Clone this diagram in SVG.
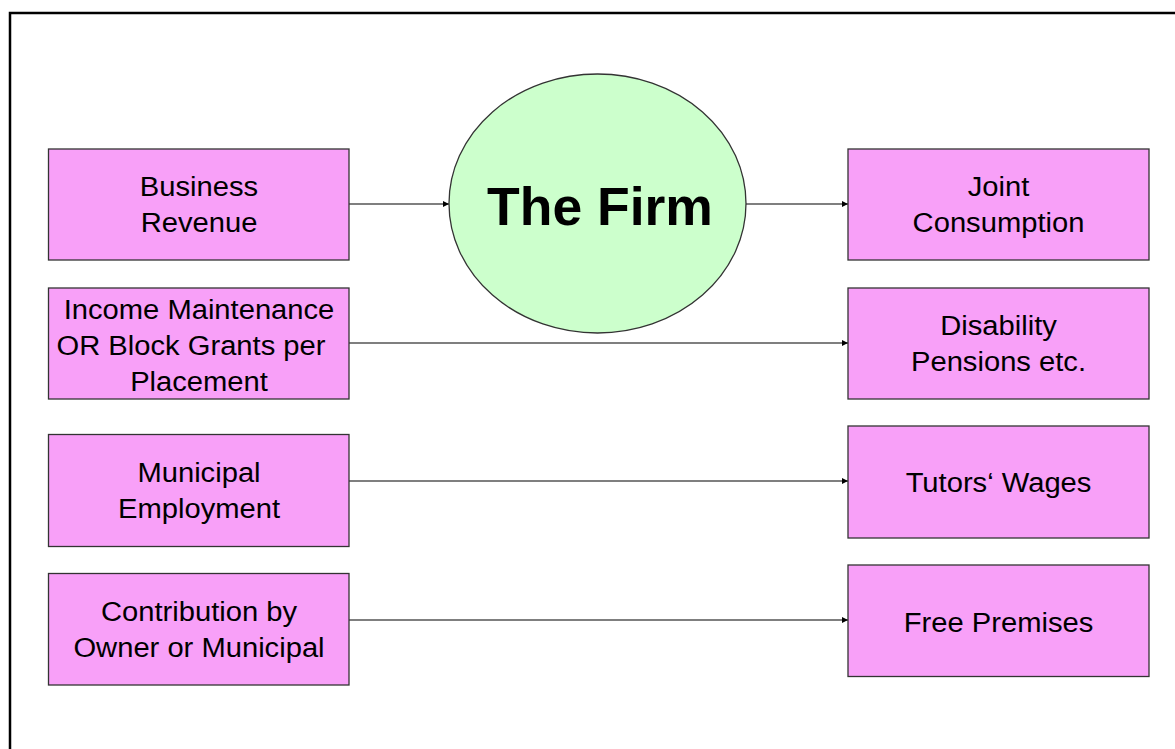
<svg xmlns="http://www.w3.org/2000/svg" width="1175" height="749" viewBox="0 0 1175 749">
<style>
.box{fill:#F8A0F8;stroke:#333333;stroke-width:1.3}
.firm{fill:#CCFFCC;stroke:#333333;stroke-width:1.3}
.t{font-family:"Liberation Sans",Arial,sans-serif;font-size:27px;fill:#000;text-anchor:middle}
.tb{font-family:"Liberation Sans",Arial,sans-serif;font-size:53.5px;font-weight:bold;fill:#000;text-anchor:middle}
.c{stroke:#000;stroke-width:1.1;fill:none;marker-end:url(#ah)}
</style>
<defs>
<marker id="ah" viewBox="0 0 10 10" refX="10" refY="5" markerUnits="userSpaceOnUse" markerWidth="8" markerHeight="6" orient="auto">
<path d="M0,0 L10,5 L0,10 z" fill="#000"/>
</marker>
</defs>
<rect x="0" y="0" width="1175" height="749" fill="#fff"/>
<rect x="10" y="13" width="1250" height="800" fill="none" stroke="#000" stroke-width="2.5"/>

<g id="connectors">
<line class="c" x1="349" y1="204" x2="449" y2="204"/>
<line class="c" x1="746" y1="204" x2="848" y2="204"/>
<line class="c" x1="349" y1="343" x2="848" y2="343"/>
<line class="c" x1="349" y1="481" x2="848" y2="481"/>
<line class="c" x1="349" y1="620" x2="848" y2="620"/>
</g>

<g id="firm">
<ellipse class="firm" cx="597.5" cy="203.5" rx="148.5" ry="129.5"/>
<text class="tb" x="600" y="225">The Firm</text>
</g>

<g id="business-revenue">
<rect class="box" x="48.5" y="149" width="300.5" height="111"/>
<text class="t" transform="translate(199 0) scale(1.08 1)" x="0" y="196.5">Business</text>
<text class="t" transform="translate(199 0) scale(1.08 1)" x="0" y="232.5">Revenue</text>
</g>

<g id="income-maintenance">
<rect class="box" x="48.5" y="288" width="300.5" height="111"/>
<text class="t" transform="translate(199 0) scale(1.08 1)" x="0" y="319.5">Income Maintenance</text>
<text class="t" transform="translate(191 0) scale(1.08 1)" x="0" y="355.5">OR Block Grants per</text>
<text class="t" transform="translate(199 0) scale(1.08 1)" x="0" y="391">Placement</text>
</g>

<g id="municipal-employment">
<rect class="box" x="48.5" y="434.5" width="300.5" height="112"/>
<text class="t" transform="translate(199 0) scale(1.08 1)" x="0" y="482">Municipal</text>
<text class="t" transform="translate(199 0) scale(1.08 1)" x="0" y="518">Employment</text>
</g>

<g id="contribution">
<rect class="box" x="48.5" y="573.5" width="300.5" height="111.5"/>
<text class="t" transform="translate(199 0) scale(1.08 1)" x="0" y="621">Contribution by</text>
<text class="t" transform="translate(199 0) scale(1.08 1)" x="0" y="657">Owner or Municipal</text>
</g>

<g id="joint-consumption">
<rect class="box" x="848" y="149" width="301" height="111"/>
<text class="t" transform="translate(998.5 0) scale(1.08 1)" x="0" y="196.5">Joint</text>
<text class="t" transform="translate(998.5 0) scale(1.08 1)" x="0" y="232.5">Consumption</text>
</g>

<g id="disability-pensions">
<rect class="box" x="848" y="288" width="301" height="111"/>
<text class="t" transform="translate(998.5 0) scale(1.08 1)" x="0" y="335.5">Disability</text>
<text class="t" transform="translate(998.5 0) scale(1.08 1)" x="0" y="371.5">Pensions etc.</text>
</g>

<g id="tutors-wages">
<rect class="box" x="848" y="426" width="301" height="112"/>
<text class="t" transform="translate(998.5 0) scale(1.08 1)" x="0" y="492">Tutors‘ Wages</text>
</g>

<g id="free-premises">
<rect class="box" x="848" y="565" width="301" height="111.5"/>
<text class="t" transform="translate(998.5 0) scale(1.08 1)" x="0" y="632">Free Premises</text>
</g>
</svg>
